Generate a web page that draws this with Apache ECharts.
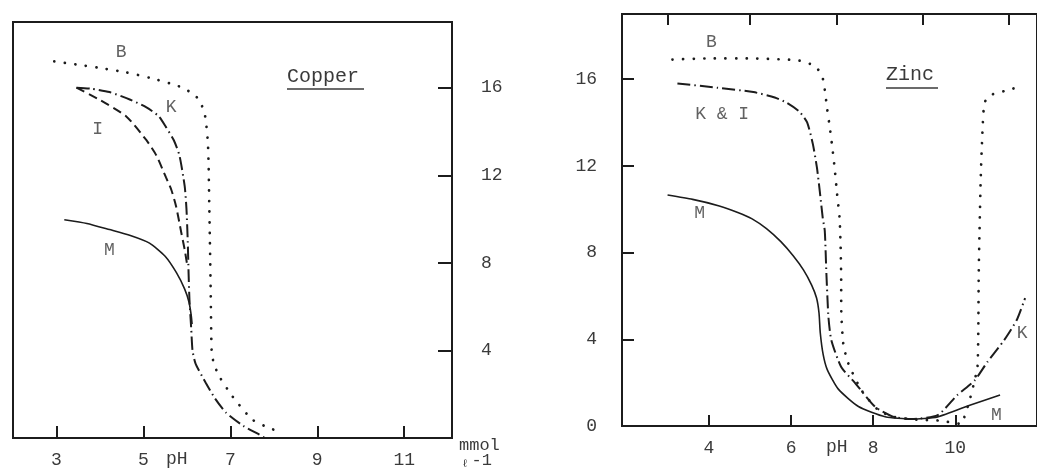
<!DOCTYPE html>
<html>
<head>
<meta charset="utf-8">
<script src="https://cdn.jsdelivr.net/npm/echarts@6/dist/echarts.min.js"></script>
<style>
  html, body { margin: 0; padding: 0; background: #fff; }
  #chart { width: 1037px; height: 472px; }
</style>
</head>
<body>
<div id="chart"></div>
<script>
// ---- Copper: residual concentration (mmol/l) against pH ----
const cuTicksX = [3, 5, 7, 9, 11];
const cuTicksY = [4, 8, 12, 16];
const cuB = [[2.95,17.2],[3.5,17.05],[4.0,16.9],[4.6,16.7],[5.15,16.45],[5.6,16.2],[5.9,16.0],[6.15,15.7],[6.3,15.4],[6.42,14.7],[6.48,13.6],[6.5,12.5],[6.51,11.3],[6.53,9],[6.55,6.5],[6.57,4.0],[6.62,3.4],[6.75,2.8],[7.05,1.9],[7.5,0.85],[7.9,0.45],[8.2,0.25]];
const cuK = [[3.46,16.0],[3.8,15.95],[4.22,15.8],[4.7,15.45],[5.07,15.1],[5.35,14.7],[5.52,14.2],[5.7,13.6],[5.83,12.9],[5.95,11.5],[5.99,10.5],[6.02,9.0],[6.04,7.5],[6.06,6.3],[6.1,5.0],[6.13,4.0],[6.2,3.4],[6.44,2.5],[6.65,1.8],[6.9,1.16],[7.3,0.55],[7.67,0.15],[7.8,0]];
const cuI = [[3.46,16.0],[3.99,15.45],[4.6,14.7],[5.07,13.6],[5.3,12.9],[5.52,11.9],[5.64,11.35],[5.75,10.6],[5.87,9.4],[5.95,8.6],[6.0,8.0]];
const cuM = [[3.18,9.97],[3.7,9.8],[4.22,9.52],[4.7,9.25],[5.14,8.9],[5.5,8.3],[5.76,7.55],[5.95,6.8],[6.05,6.2],[6.1,5.6],[6.12,5.2]];
const cuCurveLabels = [[4.49,17.6,'B'],[5.64,15.1,'K'],[3.95,14.1,'I'],[4.22,8.56,'M']];

// ---- Zinc: residual concentration (mmol/l) against pH ----
const znTicksX = [4, 6, 8, 10];
const znTopTicks = [3, 5, 7.1, 9.2, 11.3];
const znTicksY = [0, 4, 8, 12, 16];
const znB = [[3.11,16.9],[4,16.95],[5,16.95],[5.87,16.9],[6.2,16.85],[6.46,16.7],[6.65,16.45],[6.75,16.2],[6.82,15.5],[6.88,14.6],[6.94,13.8],[7.0,12.9],[7.06,11.9],[7.12,10.7],[7.18,9.6],[7.21,8.0],[7.22,6.5],[7.22,5.5],[7.27,3.8],[7.39,2.9],[7.71,1.66],[8.12,0.74],[8.5,0.42],[9.0,0.3],[9.6,0.25],[10.15,0.1],[10.22,0.41],[10.35,1.2],[10.47,2.1],[10.54,2.72],[10.56,4.4],[10.57,7.0],[10.59,9.0],[10.62,11.5],[10.66,13.5],[10.71,14.9],[10.85,15.25],[11.2,15.45],[11.58,15.65]];
const znKI = [[3.23,15.8],[4.2,15.6],[5.08,15.4],[5.6,15.15],[5.9,14.9],[6.2,14.5],[6.39,14.0],[6.53,13.0],[6.63,11.9],[6.7,10.8],[6.77,9.6],[6.82,9.0],[6.86,7.0],[6.91,5.0],[6.98,3.96],[7.22,2.72],[7.56,1.98],[8.05,0.88],[8.5,0.42],[8.94,0.32],[9.57,0.5],[10.05,1.43],[10.47,2.1],[10.78,2.95],[11.19,3.96],[11.5,4.9],[11.7,5.9]];
const znM = [[2.99,10.65],[3.6,10.45],[4.25,10.15],[4.7,9.85],[5.05,9.55],[5.4,9.1],[5.75,8.5],[6.05,7.85],[6.3,7.2],[6.5,6.5],[6.62,5.9],[6.68,5.2],[6.71,4.3],[6.78,3.3],[6.88,2.6],[7.15,1.7],[7.64,0.9],[8.29,0.43],[8.92,0.32],[9.57,0.42],[10.37,0.97],[11.09,1.43]];
const znCurveLabels = [[4.06,17.7,'B'],[4.32,14.4,'K & I'],[3.77,9.8,'M'],[11.63,4.3,'K'],[11.0,0.5,'M']];

const FONT = 'Liberation Mono';
const INK = '#1c1c1c';
const TXT = '#3a3a3a';

const dotted  = { color: INK, width: 2.7, type: [0.1, 10.5], cap: 'round' };
const dashed  = { color: INK, width: 2, type: [9, 5] };
const dashDot = { color: INK, width: 2, type: [13, 4, 1.5, 4] };
const solid   = { color: INK, width: 1.6, type: 'solid' };

function curve(data, style, xi, yi) {
  return { type: 'line', data, xAxisIndex: xi, yAxisIndex: yi, showSymbol: false,
           smooth: 0.2, lineStyle: style, silent: true, z: 3 };
}
function letters(data, xi, yi) {
  return { type: 'scatter', data, xAxisIndex: xi, yAxisIndex: yi, symbolSize: 1,
           itemStyle: { color: 'rgba(0,0,0,0)' }, silent: true, z: 4,
           label: { show: true, position: 'inside', formatter: p => p.value[2],
                    fontFamily: FONT, fontSize: 18, color: TXT } };
}

const tickText = { fontFamily: FONT, fontSize: 18, color: TXT };

const option = {
  animation: false,
  backgroundColor: '#fff',
  grid: [
    { left: 13, top: 22, right: 585, bottom: 34, show: true, borderColor: INK, borderWidth: 2 },
    { left: 622, top: 14, right: -3, bottom: 46, show: true, borderColor: INK, borderWidth: 2 }
  ],
  xAxis: [
    { type: 'value', gridIndex: 0, min: 2, max: 12.1, position: 'bottom',
      axisLine: { show: false }, splitLine: { show: false },
      axisTick: { show: true, inside: true, length: 12, customValues: cuTicksX, lineStyle: { color: INK, width: 2 } },
      axisLabel: { customValues: cuTicksX, margin: 13, ...tickText } },
    { type: 'value', gridIndex: 1, min: 1.88, max: 11.99, position: 'bottom',
      axisLine: { show: false }, splitLine: { show: false },
      axisTick: { show: true, inside: true, length: 11, customValues: znTicksX, lineStyle: { color: INK, width: 2 } },
      axisLabel: { customValues: znTicksX, margin: 13, ...tickText } },
    { type: 'value', gridIndex: 1, min: 1.88, max: 11.99, position: 'top',
      axisLine: { show: false }, splitLine: { show: false },
      axisTick: { show: true, inside: true, length: 11, customValues: znTopTicks, lineStyle: { color: INK, width: 2 } },
      axisLabel: { show: false } }
  ],
  yAxis: [
    { type: 'value', gridIndex: 0, min: 0, max: 19, position: 'right',
      axisLine: { show: false }, splitLine: { show: false },
      axisTick: { show: true, inside: true, length: 14, customValues: cuTicksY, lineStyle: { color: INK, width: 2 } },
      axisLabel: { customValues: cuTicksY, margin: 29, ...tickText } },
    { type: 'value', gridIndex: 1, min: 0, max: 19, position: 'left',
      axisLine: { show: false }, splitLine: { show: false },
      axisTick: { show: true, inside: true, length: 12, customValues: znTicksY, lineStyle: { color: INK, width: 2 } },
      axisLabel: { customValues: znTicksY, margin: 25, ...tickText } }
  ],
  series: [
    curve(cuB, dotted, 0, 0),
    curve(cuK, dashDot, 0, 0),
    curve(cuI, dashed, 0, 0),
    curve(cuM, solid, 0, 0),
    letters(cuCurveLabels, 0, 0),
    curve(znB, dotted, 1, 1),
    curve(znKI, dashDot, 1, 1),
    curve(znM, solid, 1, 1),
    letters(znCurveLabels, 1, 1)
  ],
  graphic: [
    // panel titles, underlined
    { type: 'text', left: 287, top: 67, style: { text: 'Copper', font: '20px "Liberation Mono"', fill: TXT } },
    { type: 'line', shape: { x1: 287, y1: 89, x2: 364, y2: 89 }, style: { stroke: TXT, lineWidth: 1.5 } },
    { type: 'text', left: 886, top: 65, style: { text: 'Zinc', font: '20px "Liberation Mono"', fill: TXT } },
    { type: 'line', shape: { x1: 886, y1: 88, x2: 938, y2: 88 }, style: { stroke: TXT, lineWidth: 1.5 } },
    // axis names
    { type: 'text', left: 166, top: 450, style: { text: 'pH', font: '18px "Liberation Mono"', fill: TXT } },
    { type: 'text', left: 826, top: 438, style: { text: 'pH', font: '18px "Liberation Mono"', fill: TXT } },
    { type: 'text', left: 459, top: 437, style: { text: 'mmol', font: '17px "Liberation Mono"', fill: TXT } },
    { type: 'text', left: 462, top: 452, style: {
        text: '{a|ℓ}{b|-1}', fill: TXT,
        rich: { a: { fontFamily: FONT, fontSize: 11, verticalAlign: 'bottom', padding: [7, 3, 0, 0] },
                b: { fontFamily: FONT, fontSize: 17 } } } }
  ]
};

const chart = echarts.init(document.getElementById('chart'), null, { renderer: 'canvas' });
chart.setOption(option);
</script>
</body>
</html>
